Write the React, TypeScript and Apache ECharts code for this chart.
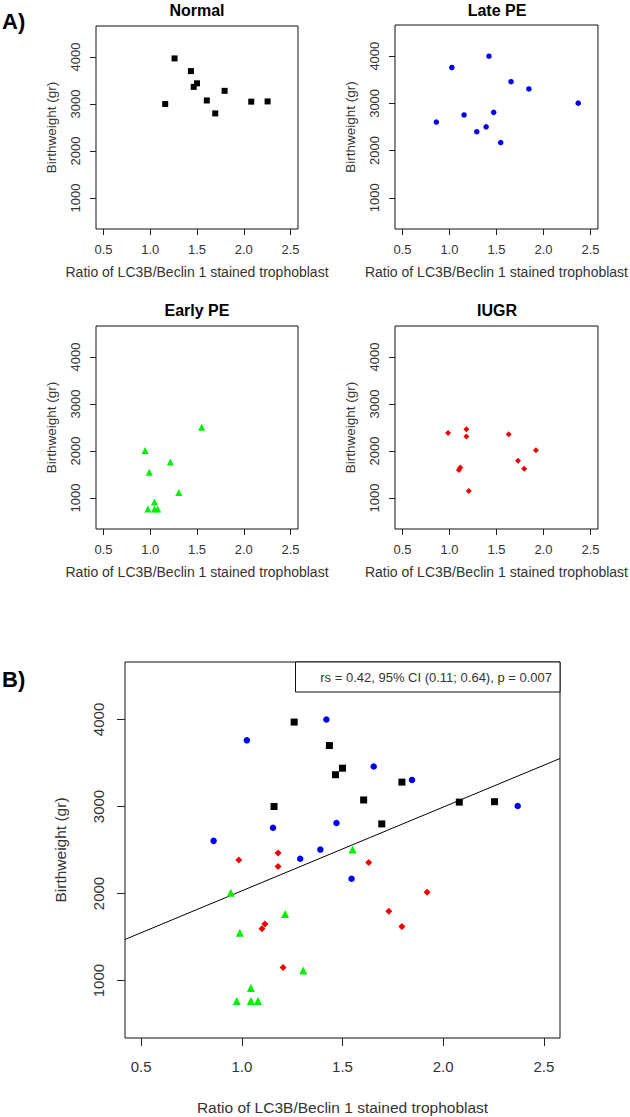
import React, { useEffect, useRef } from "react";
import * as echarts from "echarts";

// ---- Data ----
const X_TICKS = [0.5, 1.0, 1.5, 2.0, 2.5];
const Y_TICKS = [1000, 2000, 3000, 4000];
const X_RANGE = [0.42, 2.58];
const Y_RANGE = [340, 4660];

const PANEL_TITLES = ["Normal", "Late PE", "Early PE", "IUGR"];
const X_NAME = "Ratio of LC3B/Beclin 1 stained trophoblast";
const Y_NAME = "Birthweight (gr)";

const normalX = [1.16, 1.26, 1.435, 1.465, 1.5, 1.605, 1.695, 1.795, 2.08, 2.255];
const normalY = [3000, 3970, 3700, 3365, 3440, 3075, 2800, 3280, 3050, 3055];

const latePEX = [0.86, 1.025, 1.155, 1.29, 1.39, 1.42, 1.47, 1.545, 1.655, 1.845, 2.37];
const latePEY = [2605, 3760, 2755, 2400, 2505, 4000, 2810, 2170, 3460, 3305, 3005];

const earlyPEX = [0.945, 0.99, 0.975, 1.045, 1.045, 1.08, 1.215, 1.305, 1.55];
const earlyPEY = [2010, 1550, 765, 915, 765, 765, 1765, 1115, 2505];

const iugrX = [0.985, 1.18, 1.18, 1.1, 1.115, 1.205, 1.63, 1.73, 1.795, 1.92];
const iugrY = [2385, 2465, 2310, 1595, 1650, 1150, 2355, 1795, 1620, 2015];

const REG_INTERCEPT = 1068;
const REG_SLOPE = 962.5;
const STAT_TEXT = "rs = 0.42, 95% CI (0.11; 0.64), p = 0.007";

const FONT = "'Liberation Sans', Arial, Helvetica, sans-serif";

const zip = (xs: number[], ys: number[]) => xs.map((x, i) => [x, ys[i]]);

const GROUPS = [
  { x: normalX, y: normalY, symbol: "rect", color: "#000000", sizeA: 6, sizeB: 7 },
  { x: latePEX, y: latePEY, symbol: "circle", color: "#0000ee", sizeA: 5.5, sizeB: 6.5 },
  { x: earlyPEX, y: earlyPEY, symbol: "triangle", color: "#00ee00", sizeA: 7, sizeB: 8 },
  { x: iugrX, y: iugrY, symbol: "diamond", color: "#ee0000", sizeA: 6, sizeB: 7 },
];

const GRIDS = [
  { left: 96, top: 26, width: 202, height: 203 },
  { left: 395, top: 25, width: 204, height: 204 },
  { left: 96, top: 326, width: 202, height: 203 },
  { left: 395, top: 326, width: 204, height: 203 },
  { left: 125, top: 662, width: 435, height: 376 },
];

function buildOption() {
  const grid = GRIDS.map((g) => ({
    ...g,
    show: true,
    borderColor: "#111",
    borderWidth: 1,
    backgroundColor: "transparent",
    containLabel: false,
  }));

  const xAxis = GRIDS.map((_, i) => {
    const big = i === 4;
    return {
      gridIndex: i,
      type: "value",
      min: X_RANGE[0],
      max: X_RANGE[1],
      axisLine: { show: false },
      splitLine: { show: false },
      axisTick: {
        show: true,
        inside: false,
        length: big ? 8 : 6,
        customValues: X_TICKS,
        lineStyle: { color: "#222", width: 1 },
      },
      axisLabel: {
        customValues: X_TICKS,
        formatter: (v: number) => v.toFixed(1),
        fontSize: big ? 15 : 13,
        color: "#333",
        fontFamily: FONT,
        margin: big ? 21 : 13.5,
      },
      name: X_NAME,
      nameLocation: "middle",
      nameGap: big ? 61 : 36,
      nameTextStyle: { fontSize: big ? 15.5 : 14, color: "#333", fontFamily: FONT },
    };
  });

  const yAxis = GRIDS.map((_, i) => {
    const big = i === 4;
    return {
      gridIndex: i,
      type: "value",
      min: Y_RANGE[0],
      max: Y_RANGE[1],
      axisLine: { show: false },
      splitLine: { show: false },
      axisTick: {
        show: true,
        inside: false,
        length: big ? 8 : 6,
        customValues: Y_TICKS,
        lineStyle: { color: "#222", width: 1 },
      },
      axisLabel: {
        customValues: Y_TICKS,
        formatter: (v: number) => String(Math.round(v)),
        rotate: 90,
        fontSize: big ? 15 : 13,
        color: "#333",
        fontFamily: FONT,
        margin: big ? 19.5 : 14,
      },
      name: Y_NAME,
      nameLocation: "middle",
      nameGap: big ? 57 : 38,
      nameTextStyle: { fontSize: big ? 15.5 : 13.5, color: "#333", fontFamily: FONT },
    };
  });

  const series: any[] = [];
  GROUPS.forEach((g, i) => {
    series.push({
      type: "scatter",
      xAxisIndex: i,
      yAxisIndex: i,
      symbol: g.symbol,
      symbolSize: g.sizeA,
      itemStyle: { color: g.color, opacity: 1 },
      data: zip(g.x, g.y),
      silent: true,
    });
  });
  GROUPS.forEach((g) => {
    series.push({
      type: "scatter",
      xAxisIndex: 4,
      yAxisIndex: 4,
      symbol: g.symbol,
      symbolSize: g.sizeB,
      itemStyle: { color: g.color, opacity: 1 },
      data: zip(g.x, g.y),
      silent: true,
      z: 3,
    });
  });
  series.push({
    type: "line",
    xAxisIndex: 4,
    yAxisIndex: 4,
    showSymbol: false,
    symbol: "none",
    silent: true,
    lineStyle: { color: "#000", width: 1 },
    data: X_RANGE.map((x) => [x, REG_INTERCEPT + REG_SLOPE * x]),
    z: 2,
  });

  const graphic: any[] = [];
  PANEL_TITLES.forEach((t, i) => {
    const g = GRIDS[i];
    graphic.push({
      type: "text",
      x: g.left + g.width / 2,
      y: i < 2 ? 10 : 310.5,
      style: {
        text: t,
        fontSize: 16,
        fontWeight: "bold",
        fontFamily: FONT,
        fill: "#000",
        align: "center",
        verticalAlign: "middle",
      },
    });
  });
  graphic.push({
    type: "text",
    x: 2,
    y: 21,
    style: { text: "A)", fontSize: 22, fontWeight: "bold", fontFamily: FONT, fill: "#000", align: "left", verticalAlign: "middle" },
  });
  graphic.push({
    type: "text",
    x: 2,
    y: 679,
    style: { text: "B)", fontSize: 22, fontWeight: "bold", fontFamily: FONT, fill: "#000", align: "left", verticalAlign: "middle" },
  });
  graphic.push({
    type: "rect",
    shape: { x: 295.5, y: 662, width: 264.5, height: 30 },
    style: { fill: "#fff", stroke: "#111", lineWidth: 1 },
    z: 10,
  });
  graphic.push({
    type: "text",
    x: 552,
    y: 677.5,
    z: 11,
    style: { text: STAT_TEXT, fontSize: 13, fontFamily: FONT, fill: "#333", align: "right", verticalAlign: "middle" },
  });

  return {
    animation: false,
    backgroundColor: "#ffffff",
    grid,
    xAxis,
    yAxis,
    series,
    graphic,
  };
}

export default function App() {
  const ref = useRef<HTMLDivElement>(null);
  useEffect(() => {
    if (!ref.current) return;
    const chart = echarts.init(ref.current, null, { renderer: "svg" });
    chart.setOption(buildOption() as any);
    return () => chart.dispose();
  }, []);
  return (
    <div
      ref={ref}
      style={{ position: "absolute", left: 0, top: 0, width: 630, height: 1117, background: "#fff" }}
    />
  );
}
